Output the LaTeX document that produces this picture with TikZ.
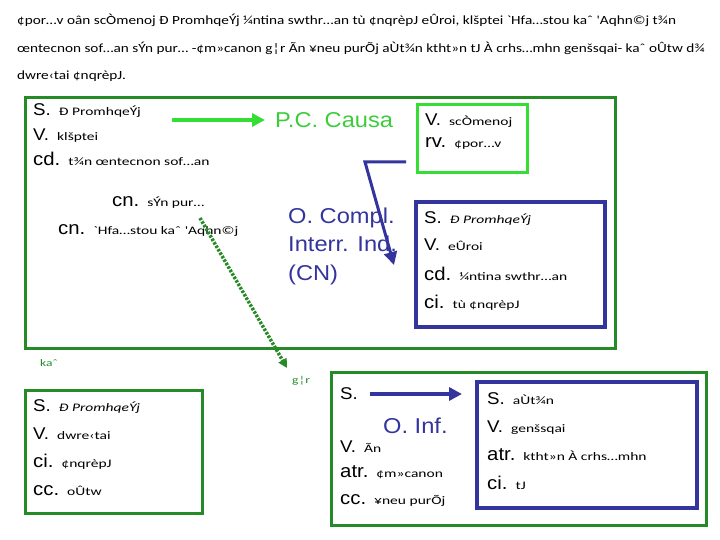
\documentclass[tikz,border=0pt]{standalone}
\usepackage{fontspec}
\setmainfont{Liberation Sans}[FakeStretch=1.1]
\newfontfamily\grk{Carlito}[FakeStretch=1.35]
\newfontfamily\grkw{Carlito}[FakeStretch=1.22]
\usetikzlibrary{arrows.meta}

\definecolor{dkgreen}{RGB}{38,138,38}
\definecolor{ltgreen}{RGB}{52,222,52}
\definecolor{pcgreen}{RGB}{60,205,60}
\definecolor{dkblue}{RGB}{52,52,158}

% Satzglied-Kuerzel und griechischer Text
\newcommand{\fn}[1]{{\fontsize{17}{17}\selectfont #1}\hspace{8pt}}
\newcommand{\fnb}[1]{{\fontsize{18.5}{18}\selectfont #1}\hspace{8pt}}
\newcommand{\gk}[1]{{\grk\fontsize{11.5}{12}\selectfont #1}}
\newcommand{\gki}[1]{{\grk\itshape\fontsize{11.5}{12}\selectfont #1}}

\begin{document}
\begin{tikzpicture}[x=1pt,y=-1pt,
  line/.style={anchor=base west,inner sep=0pt},
  para/.style={anchor=base west,inner sep=0pt,font=\grkw\fontsize{12.5}{14}\selectfont},
  tag/.style={anchor=base west,inner sep=0pt,text=dkgreen,font=\grk\fontsize{10}{12}\selectfont},
  big/.style={anchor=base west,inner sep=0pt,align=left,font=\fontsize{21.5}{28.5}\selectfont},
  outerbox/.style={draw=dkgreen,line width=3pt,minimum width=#1},
  greenbox/.style={draw=ltgreen,line width=3pt,minimum width=#1},
  bluebox/.style={draw=dkblue,line width=4pt,minimum width=#1},
  arrow/.style={-{Triangle[length=13pt,width=13pt]},line width=4pt}
]
\useasboundingbox (0,0) rectangle (720,540);

% Text oben
\node[para] (p1) at (17,25) {¢por…v oân scÒmenoj Ð PromhqeÝj ¼ntina swthr…an tù ¢nqrèpJ eÛroi, klšptei `Hfa…stou kaˆ 'Aqhn©j t¾n};
\node[para] (p2) at (17,53) {œntecnon sof…an sÝn pur… -¢m»canon g¦r Ãn ¥neu purÕj aÙt¾n ktht»n tJ À crhs…mhn genšsqai- kaˆ oÛtw d¾};
\node[para] (p3) at (17,80) {dwre‹tai ¢nqrèpJ.};

% Rahmen
\node[outerbox=590pt,minimum height=250pt] (main) at (320,223) {};
\node[greenbox=110pt,minimum height=68pt] (pcbox) at (472,139) {};
\node[bluebox=189pt,minimum height=125pt] (ocbox) at (510.5,264.5) {};
\node[outerbox=177pt,minimum height=123pt] (kaibox) at (113.5,451.5) {};
\node[outerbox=375pt,minimum height=153pt] (garbox) at (518.5,448.5) {};
\node[bluebox=220pt,minimum height=126pt] (infbox) at (587,445) {};

% Hauptsatz
\node[line] (s1) at (33,116) {\fn{S.}\gk{Ð PromhqeÝj}};
\node[line] (v1) at (33,141) {\fn{V.}\gk{klšptei}};
\node[line] (cd1) at (33,166) {\fnb{cd.}\gk{t¾n œntecnon sof…an}};
\node[line] (cn1) at (112,207) {\fnb{cn.}\gk{sÝn pur…}};
\node[line] (cn2) at (58,235) {\fnb{cn.}\gk{`Hfa…stou kaˆ 'Aqhn©j}};

% Participio
\node[big,text=pcgreen] (pc) at (275,128) {P.C. Causa};
\node[line] (v2) at (425,126) {\fn{V.}\gk{scÒmenoj}};
\node[line] (rv2) at (425,148) {\fnb{rv.}\gk{¢por…v}};

% Interrogativa indirecta
\node[big,text=dkblue] (oc) at (288,280) {O. Compl.\\Interr. Ind.\\(CN)};
\node[line] (s3) at (424,223) {\fn{S.}\gki{Ð PromhqeÝj}};
\node[line] (v3) at (424,251) {\fn{V.}\gk{eÛroi}};
\node[line] (cd3) at (424,280) {\fnb{cd.}\gk{¼ntina swthr…an}};
\node[line] (ci3) at (424,308) {\fnb{ci.}\gk{tù ¢nqrèpJ}};

% Coordinadas
\node[tag] (kai) at (40,366) {kaˆ};
\node[tag] (gar) at (292,383) {g¦r};
\node[line] (s4) at (33,411) {\fn{S.}\gki{Ð PromhqeÝj}};
\node[line] (v4) at (33,439) {\fn{V.}\gk{dwre‹tai}};
\node[line] (ci4) at (33,467) {\fnb{ci.}\gk{¢nqrèpJ}};
\node[line] (cc4) at (33,495) {\fnb{cc.}\gk{oÛtw}};

\node[line] (s5) at (340,399) {\fn{S.}};
\node[big,text=dkblue] (inf) at (383,433) {O. Inf.};
\node[line] (v5) at (340,452) {\fn{V.}\gk{Ãn}};
\node[line] (atr5) at (340,477) {\fnb{atr.}\gk{¢m»canon}};
\node[line] (cc5) at (340,504) {\fnb{cc.}\gk{¥neu purÕj}};

\node[line] (s6) at (487,404) {\fn{S.}\gk{aÙt¾n}};
\node[line] (v6) at (487,432) {\fn{V.}\gk{genšsqai}};
\node[line] (atr6) at (487,460) {\fnb{atr.}\gk{ktht»n À crhs…mhn}};
\node[line] (ci6) at (487,489) {\fnb{ci.}\gk{tJ}};

% Pfeile
\coordinate (a1) at (172,120);
\coordinate (a2) at (265,120);
\coordinate (b1) at (406,162);
\coordinate (b2) at (365,162);
\coordinate (b3) at (394,265);
\coordinate (c1) at (200,218);
\coordinate (c2) at (287,368);
\coordinate (d1) at (370,394);
\coordinate (d2) at (462,394);

\draw[arrow,draw=ltgreen,fill=ltgreen] (a1) -- (a2);
\draw[arrow,draw=dkblue,line width=3pt] (b1) -- (b2) -- (b3);
\draw[-{Triangle[length=9pt,width=9pt]},dkgreen,line width=3.5pt,dash pattern=on 2.5pt off 1.5pt] (c1) -- (c2);
\draw[arrow,draw=dkblue] (d1) -- (d2);

\end{tikzpicture}
\end{document}
